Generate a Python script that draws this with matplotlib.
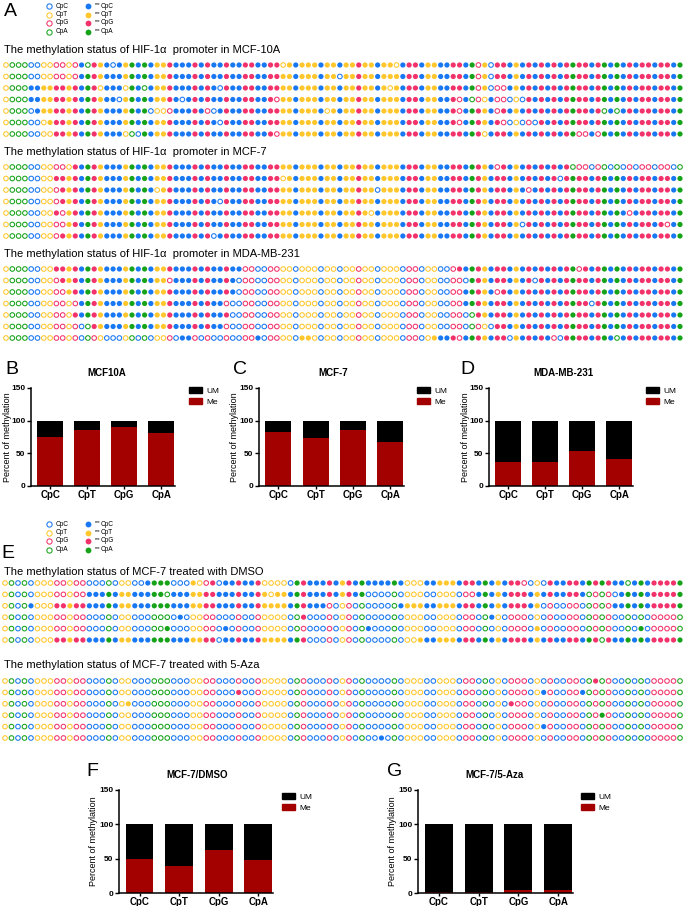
import matplotlib
matplotlib.use('Agg')
import matplotlib.pyplot as plt
from matplotlib.patches import Patch
import numpy as np

plt.rcParams['font.family'] = ['Liberation Sans', 'DejaVu Sans']

# ---------------- data ----------------
base_colors = {'C': '#1877F2', 'T': '#FFC72C', 'G': '#F2336B', 'A': '#16A31A'}
legend_bases = ['CpC', 'CpT', 'CpG', 'CpA']
legend_keys = ['C', 'T', 'G', 'A']

# promoter sequence (column base types) for HIF-1a panels
seq_hif = ("TAAACCTTGG TGCAGTCCCT ACACTTGCCC GCGCCGCCGG CCGGTTCTTT "
           "CTTCTTGTTC TTTCGGCTTC CGGCAGTCGG CTCGCGCGCG AGGCGACACG CGGCGGCA")
# sequence for MCF-7 DMSO / 5-Aza panels
seq_e = ("TACACTTTGGTGGCCCACTTCCCAAACCCTTGGCC"
         "CGCCGTTTTCAGCCCGCTGCACCCCACTTTCCTTT"
         "CGGCACTCGGGCTCGCCGGCAGAGCCACACGGGGA")

# 1 = methylated (filled), 0 = unmethylated (open)
meth_mcf10a = [
    "0000000000 0010111011 1111111111 1111111111 1111011111 1111111111 1101111111 1111101011 1111111111 1111111111 11111111",
    "0000000000 0011111111 1111111111 1111111111 1111111111 1110111111 1111111111 1111101011 1111111111 1111111111 11111111",
    "0000111111 1111101110 1101111111 1111011111 1111111111 1111111111 1011111111 1111101000 1111111111 1111111111 11111111",
    "0000111111 1111111101 1111111101 1111111111 1110111111 1111111111 1111111111 1101000100 0001111111 1111111111 11111111",
    "0000011111 1111111111 1110000111 1100111111 1111111111 1011111111 1111111111 1101111101 1111111111 1111101011 11111111",
    "0000000111 1111111111 1111111111 1111011111 1111111111 1111111111 1111111111 1101111110 0000011111 1111111111 11111111",
    "0000000011 1111111110 0011111111 1111111111 1110111111 1111111111 1111111111 1111110111 1111111111 1001011111 11111111",
]
meth_mcf7 = [
    "0000000000 0111111111 1111111111 1111111111 1111111111 1111111111 1111111111 1111111101 1111111111 0000000000 00000000",
    "0000000011 1111111111 1111111111 1111111111 1111011111 1111111111 1111111111 1111111111 1111111101 1111111111 11111111",
    "0000000001 1111111111 1111011111 1111111111 1111111111 1111111110 1111111111 1111111111 1110111111 1111111111 11111111",
    "0000000001 1111111111 1111111111 1111011111 1111111111 1111111111 1111111111 1111111111 1111111111 1111111111 11111111",
    "0000000010 1111111111 1111111111 1111111111 1111111111 1111111101 1111111111 1111111111 1111111111 1111111110 11111111",
    "0000000000 1111111111 1111111111 1111111111 1111111111 1111111111 1111111111 1111111111 1101111111 1111111111 11111011",
    "0000000001 1111111111 1111111111 1110111111 1111111111 1111111111 1111111111 1111111111 1111111111 1111111111 11111111",
]
meth_mda = [
    "0000000011 1111111111 1111111111 1111111100 0000000000 0000000000 0000000000 0011111111 1111111111 1011111111 11111111",
    "0000000001 1111111111 1111110111 1111111000 0000000000 0000000000 0000000000 0000111111 1111011111 1111111111 11111111",
    "0000000000 1111111111 1111111111 1111111000 0000000000 0000000000 0000000000 0001111101 1111111111 1111111111 11111111",
    "0000000000 0011111111 1111111111 1111100000 0000000000 0000000000 0000000000 0001111111 1111111111 1110111111 11111111",
    "0000000000 0111111111 1111111111 1111110000 0000000000 0000000000 0000000000 0000011111 1111111111 1111111111 11111111",
    "0000000000 0000111111 1111111111 1111100000 0000000000 0000000000 0000000000 0000000011 1111111111 1111111111 11111111",
    "0000000000 0000000000 0000000011 0000000000 1000000110 0000000000 0000000011 1101111111 0111111001 1111111011 11111111",
]
meth_dmso = [
    "0000000000 0000000000 0011110001 0010111111 0000011111 1111111111 1100011111 1111111111 0000111111 1111110111 11111",
    "0000000000 0001111111 1111101111 1111111111 1011111111 1111110000 0000000000 0001111111 1111111111 0000011111 11111",
    "0000100011 1111111111 1111111111 1111111111 1111111111 0000000000 0111111111 1111111111 1110000000 0000111111 11111",
    "0000000000 0000000000 0000000100 0000000000 0000001000 0000000000 0000000000 0000010000 0000000000 0000000000 00000",
    "0000000000 0000000000 0000010000 0000100000 0000000000 0000001000 0000000000 0000000000 0010000000 0000000010 00000",
    "0000000011 1111111111 1111111111 1110111111 1111111000 0000000000 0000111111 1111111111 1111111111 1101111111 11111",
]
# 5-Aza: indices of the few methylated sites in each clone
aza_methylated = [[91], [36, 83, 89], [19, 78], [92], [83], [58]]

categories = ['CpC', 'CpT', 'CpG', 'CpA']
me_mcf10a = [75, 86, 90, 81]
me_mcf7 = [82, 74, 85, 67]
me_mda = [36, 37, 54, 42]
me_dmso = [49, 40, 62, 48]
me_aza = [2, 2, 4, 4]
total = 100

ME_COLOR = '#A30000'
UM_COLOR = '#000000'

# ---------------- figure ----------------
W, H = 685, 906
fig = plt.figure(figsize=(W / 100, H / 100), dpi=100)


def box(l, t, r, b):
    return [l / W, 1 - b / H, (r - l) / W, (b - t) / H]


ov = fig.add_axes([0, 0, 1, 1])
ov.set_xlim(0, W)
ov.set_ylim(H, 0)
ov.axis('off')


def dot_panel(seq, rows, x0, x1, y0, dy):
    seq = seq.replace(' ', '')
    n = len(seq)
    nr = len(rows)
    dx = (x1 - x0) / (n - 1)
    ax = fig.add_axes(box(x0 - dx / 2, y0 - dy / 2, x1 + dx / 2, y0 + (nr - 1) * dy + dy / 2))
    ax.set_xlim(-0.5, n - 0.5)
    ax.set_ylim(nr - 0.5, -0.5)
    ax.axis('off')
    fx, fyy, fc, ox, oy, oc = [], [], [], [], [], []
    for r, row in enumerate(rows):
        row = row.replace(' ', '')
        for i, (b, m) in enumerate(zip(seq, row)):
            if m == '1':
                fx.append(i); fyy.append(r); fc.append(base_colors[b])
            else:
                ox.append(i); oy.append(r); oc.append(base_colors[b])
    ax.scatter(ox, oy, s=11, facecolors='white', edgecolors=oc, linewidths=0.75)
    ax.scatter(fx, fyy, s=14, c=fc, edgecolors='none')


def top_legend(y0):
    for k, (lab, key) in enumerate(zip(legend_bases, legend_keys)):
        y = y0 + k * 8.5
        ov.plot(49, y, 'o', ms=3.8, mfc='white', mec=base_colors[key], mew=0.75)
        ov.text(56, y, lab, fontsize=4.7, va='center', ha='left')
        ov.plot(88, y, 'o', ms=4.2, mfc=base_colors[key], mec='none')
        ov.text(94.5, y - 1.6, 'me', fontsize=3.0, va='center', ha='left')
        ov.text(100.5, y, lab, fontsize=4.7, va='center', ha='left')


def letter(x, y, s):
    ov.text(x, y, s, fontsize=14, ha='center', va='center')


def title(y, s):
    ov.text(4, y, s, fontsize=8, ha='left', va='center')


letter(10, 11, 'A')
top_legend(6)
title(50, 'The methylation status of HIF-1α  promoter in MCF-10A')
dot_panel(seq_hif, meth_mcf10a, 6, 680, 65, 11.5)
title(152, 'The methylation status of HIF-1α  promoter in MCF-7')
dot_panel(seq_hif, meth_mcf7, 6, 680, 167, 11.5)
title(254, 'The methylation status of HIF-1α  promoter in MDA-MB-231')
dot_panel(seq_hif, meth_mda, 6, 680, 269, 11.5)

letter(8, 553, 'E')
top_legend(524)
title(572, 'The methylation status of MCF-7 treated with DMSO')
dot_panel(seq_e, meth_dmso, 5, 680, 583, 11.4)
title(665, 'The methylation status of MCF-7 treated with 5-Aza')
n_e = len(seq_e)
aza_rows = [''.join('1' if i in idx else '0' for i in range(n_e)) for idx in aza_methylated]
dot_panel(seq_e, aza_rows, 5, 680, 681, 11.4)


def bar_panel(rect, me, ttl, leg_xy, title_xy, lab_x):
    ax = fig.add_axes(box(*rect))
    x = np.arange(len(categories))
    um = [total - v for v in me]
    ax.bar(x, me, width=0.7, color=ME_COLOR, edgecolor='none')
    ax.bar(x, um, bottom=me, width=0.7, color=UM_COLOR, edgecolor='none')
    ax.set_xlim(-0.52, 3.37)
    ax.set_ylim(0, 150)
    ax.set_yticks([0, 50, 100, 150])
    ax.set_xticks(x)
    ax.set_xticklabels(categories, fontsize=7, fontweight='bold')
    for t in ax.get_yticklabels():
        t.set_fontsize(6)
        t.set_fontweight('bold')
    for s in ['top', 'right']:
        ax.spines[s].set_visible(False)
    for s in ['left', 'bottom']:
        ax.spines[s].set_linewidth(1.1)
    ax.tick_params(axis='y', length=3, width=1.0, pad=1.0)
    ax.tick_params(axis='x', length=2, width=1.0, pad=1.0)
    ax.set_ylabel('Percent of methylation', fontsize=6.5)
    ax.yaxis.set_label_coords(lab_x, 0.5)
    ov.text(title_xy[0], title_xy[1], ttl, fontsize=7, fontweight='bold', ha='center', va='center')
    handles = [Patch(color=UM_COLOR, label='UM'), Patch(color=ME_COLOR, label='Me')]
    ax.legend(handles=handles, loc='upper left',
              bbox_to_anchor=(leg_xy[0] / W, 1 - leg_xy[1] / H), bbox_transform=fig.transFigure,
              frameon=False, fontsize=6, handlelength=1.6, handleheight=0.8,
              handletextpad=0.5, labelspacing=0.35, borderpad=0, borderaxespad=0)
    return ax


bar_panel((31, 388, 175, 486), me_mcf10a, 'MCF10A', (189, 387), (107, 373), -0.135)
letter(12, 370, 'B')
bar_panel((259, 388, 404, 486), me_mcf7, 'MCF-7', (417, 387), (333, 373), -0.135)
letter(240, 370, 'C')
bar_panel((489, 388, 633, 486), me_mda, 'MDA-MB-231', (646, 387), (563, 373), -0.135)
letter(467, 370, 'D')
bar_panel((119, 790, 273, 893), me_dmso, 'MCF-7/DMSO', (282, 793), (197, 775), -0.135)
letter(92, 772, 'F')
bar_panel((418, 790, 573, 893), me_aza, 'MCF-7/5-Aza', (581, 793), (495, 775), -0.135)
letter(395, 772, 'G')

fig.savefig('out.png', dpi=100)
